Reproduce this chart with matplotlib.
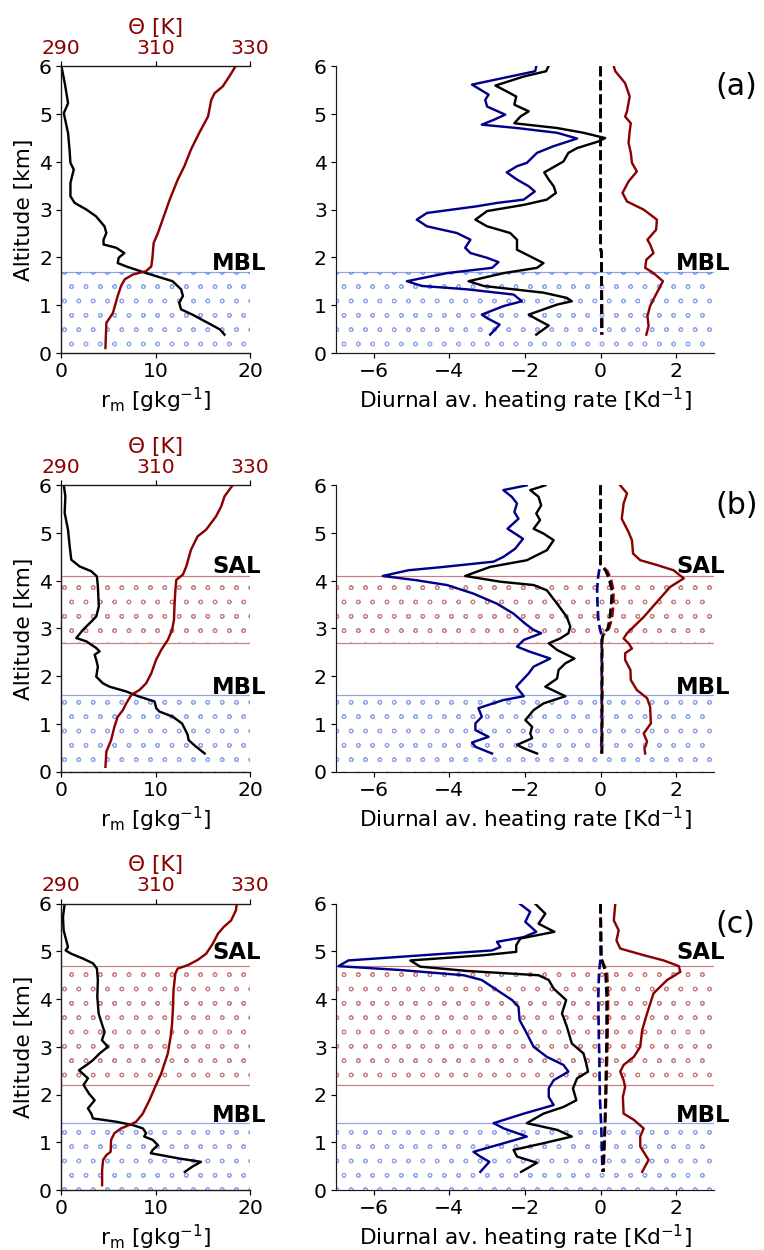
import matplotlib.pyplot as plt
import matplotlib.hatch

# ---------------- panel (a) ----------------
z_rm_a = [6.0, 5.65, 5.23, 5.02, 4.6, 4.26, 3.98, 3.84, 3.56, 3.28, 3.14, 3.0, 2.86, 2.65, 2.51, 2.37,
          2.27, 2.2, 2.09, 1.99, 1.88, 1.81, 1.67, 1.5, 1.33, 1.19, 1.05, 0.91, 0.8, 0.63, 0.49, 0.38]
rm_a = [0.05, 0.4, 0.75, 0.3, 0.75, 0.9, 1.0, 1.35, 1.0, 1.0, 1.45, 2.7, 3.7, 4.6, 4.8, 4.5,
        4.5, 5.85, 6.7, 6.1, 6.0, 6.9, 9.0, 11.8, 12.7, 12.9, 12.5, 12.7, 13.9, 15.5, 16.8, 17.3]
z_th_a = [6.0, 5.79, 5.58, 5.44, 5.3, 4.95, 4.6, 4.26, 3.91, 3.63, 3.21, 2.79, 2.51, 2.3, 1.95, 1.81,
          1.71, 1.64, 1.54, 1.4, 1.19, 0.84, 0.73, 0.63, 0.1]
th_a = [326.9, 325.6, 324.2, 322.5, 321.8, 321.1, 319.2, 317.5, 316.1, 314.7, 313.0, 311.5, 310.5, 309.6,
        309.3, 309.1, 308.0, 305.2, 303.5, 302.7, 302.0, 301.0, 300.3, 299.6, 299.4]
z_lw_a = [6.0, 5.9, 5.62, 5.41, 5.3, 5.16, 4.99, 4.88, 4.78, 4.71, 4.61, 4.49, 4.33, 4.19, 3.98, 3.91,
          3.78, 3.63, 3.49, 3.38, 3.21, 3.14, 3.07, 2.93, 2.79, 2.65, 2.51, 2.37, 2.2, 2.09, 1.99, 1.9,
          1.78, 1.67, 1.5, 1.4, 1.33, 1.22, 1.08, 0.98, 0.8, 0.73, 0.59, 0.38]
lw_a = [-1.70, -1.73, -3.40, -2.96, -3.05, -3.0, -2.52, -2.83, -3.14, -2.21, -1.15, -0.62, -1.24, -1.68,
        -1.95, -2.21, -2.48, -2.21, -1.90, -1.74, -2.03, -2.74, -3.27, -4.59, -4.86, -4.59, -3.80, -3.44,
        -3.58, -3.44, -3.0, -2.70, -2.87, -4.06, -5.12, -4.72, -3.53, -2.30, -2.08, -2.56, -3.14, -3.01,
        -2.67, -2.92]
z_net_a = [6.0, 5.9, 5.79, 5.6, 5.51, 5.37, 5.2, 5.06, 4.95, 4.81, 4.71, 4.61, 4.5, 4.43, 4.29, 4.19,
           4.01, 3.91, 3.78, 3.63, 3.49, 3.35, 3.21, 3.1, 2.97, 2.79, 2.65, 2.51, 2.37, 2.16, 2.02, 1.88,
           1.78, 1.67, 1.5, 1.4, 1.26, 1.15, 1.08, 1.01, 0.8, 0.7, 0.57, 0.38]
net_a = [-1.38, -1.44, -2.03, -2.78, -2.56, -2.23, -2.28, -1.90, -2.12, -2.28, -1.15, -0.45, 0.12, -0.05,
         -0.62, -0.85, -0.98, -1.20, -1.49, -1.37, -1.24, -1.18, -1.42, -2.03, -3.0, -3.31, -3.0, -2.39,
         -2.21, -2.21, -1.86, -1.51, -1.68, -2.56, -3.49, -3.09, -1.51, -0.89, -0.76, -1.15, -1.90, -1.68,
         -1.37, -1.70]
z_sw_a = [6.0, 5.9, 5.65, 5.37, 5.06, 4.95, 4.81, 4.64, 4.4, 4.19, 3.98, 3.8, 3.59, 3.35, 3.17, 3.0,
          2.79, 2.58, 2.37, 2.27, 2.09, 1.95, 1.78, 1.67, 1.5, 1.26, 0.98, 0.77, 0.56, 0.38]
sw_a = [0.35, 0.39, 0.65, 0.77, 0.70, 0.65, 0.80, 0.77, 0.74, 0.80, 0.83, 0.96, 0.74, 0.58, 0.70, 1.14,
        1.49, 1.47, 1.24, 1.31, 1.40, 1.21, 1.18, 1.40, 1.65, 1.49, 1.31, 1.24, 1.27, 1.21]
z_dust_a = [6.0, 2.2, 2.1, 1.5, 1.0, 0.38]
dlw_a = [0.0, 0.0, 0.02, 0.02, 0.02, 0.02]
dsw_a = [0.0, 0.0, 0.03, 0.03, 0.04, 0.04]
dnet_a = [0.0, 0.0, 0.02, 0.03, 0.03, 0.04]

# ---------------- panel (b) ----------------
z_rm_b = [6.0, 5.77, 5.42, 5.07, 4.72, 4.44, 4.3, 4.2, 4.09, 3.88, 3.46, 3.25, 3.11, 2.97, 2.8, 2.73,
          2.59, 2.52, 2.45, 2.34, 2.2, 1.99, 1.85, 1.78, 1.68, 1.57, 1.47, 1.33, 1.26, 1.15, 1.01, 0.91,
          0.77, 0.66, 0.52, 0.38]
rm_b = [0.3, 0.46, 0.39, 0.74, 0.92, 1.09, 1.97, 3.2, 3.8, 3.9, 4.0, 3.73, 3.03, 2.32, 1.62, 2.68,
        3.73, 4.08, 3.56, 3.73, 3.9, 3.73, 4.44, 5.14, 6.9, 8.3, 9.9, 10.07, 10.4, 11.83, 12.8, 13.06,
        13.4, 13.5, 14.3, 15.2]
z_th_b = [6.0, 5.77, 5.56, 5.35, 5.07, 4.93, 4.65, 4.3, 4.13, 4.02, 3.81, 3.46, 3.18, 2.97, 2.76, 2.55,
          2.34, 2.06, 1.85, 1.71, 1.61, 1.43, 1.29, 1.15, 0.94, 0.66, 0.42, 0.1]
th_b = [326.3, 324.6, 323.9, 322.8, 320.7, 318.9, 317.5, 316.5, 315.8, 314.4, 314.2, 314.0, 313.9, 313.5,
        312.6, 311.2, 310.1, 309.1, 308.0, 306.6, 304.9, 303.8, 303.1, 302.0, 301.3, 300.6, 299.6, 299.4]
z_lw_b = [6.0, 5.9, 5.76, 5.62, 5.44, 5.3, 5.09, 4.88, 4.67, 4.5, 4.4, 4.29, 4.22, 4.1, 4.01, 3.91,
          3.73, 3.52, 3.31, 3.1, 2.97, 2.9, 2.76, 2.62, 2.51, 2.37, 2.2, 2.06, 1.78, 1.58, 1.5, 1.33,
          1.15, 1.01, 0.87, 0.73, 0.61, 0.52, 0.38]
lw_b = [-1.95, -2.57, -2.35, -2.21, -2.28, -2.17, -2.46, -2.05, -2.26, -2.57, -2.83, -4.15, -5.08, -5.76,
        -4.86, -4.06, -3.36, -2.74, -2.30, -1.99, -1.77, -1.57, -2.03, -2.21, -1.86, -1.33, -1.77, -1.90,
        -2.23, -2.03, -2.57, -3.23, -3.14, -3.31, -3.31, -2.96, -3.40, -3.31, -2.87]
z_net_b = [6.0, 5.9, 5.76, 5.58, 5.41, 5.27, 5.09, 4.99, 4.85, 4.64, 4.43, 4.29, 4.19, 4.1, 3.98, 3.91,
           3.8, 3.52, 3.24, 3.04, 2.9, 2.79, 2.69, 2.55, 2.37, 2.27, 2.13, 1.95, 1.78, 1.58, 1.43, 1.29,
           1.08, 0.94, 0.8, 0.7, 0.56, 0.49, 0.38]
net_b = [-1.46, -1.86, -1.64, -1.57, -1.70, -1.60, -1.77, -1.51, -1.24, -1.42, -1.95, -2.92, -3.27, -3.58,
         -2.65, -1.77, -1.42, -1.15, -0.89, -0.80, -0.85, -1.07, -1.37, -1.15, -0.69, -0.93, -1.11, -1.15,
         -1.46, -0.93, -1.51, -1.77, -1.99, -1.81, -1.86, -1.81, -2.21, -2.03, -1.68]
z_sw_b = [6.0, 5.83, 5.62, 5.3, 5.02, 4.85, 4.57, 4.43, 4.33, 4.22, 4.05, 3.87, 3.52, 3.24, 3.04, 2.9,
          2.79, 2.69, 2.58, 2.48, 2.34, 2.13, 1.92, 1.71, 1.54, 1.36, 1.01, 0.8, 0.63, 0.49, 0.38]
sw_b = [0.52, 0.70, 0.61, 0.56, 0.74, 0.83, 0.86, 1.05, 1.49, 1.93, 2.20, 1.84, 1.45, 1.14, 0.88, 0.70,
        0.61, 0.74, 0.83, 0.65, 0.65, 0.79, 0.80, 0.96, 1.23, 1.31, 1.33, 1.14, 1.23, 1.16, 1.18]
z_dust_b = [6.0, 4.35, 4.2, 4.05, 3.8, 3.5, 3.2, 3.0, 2.85, 2.75, 2.0, 1.0, 0.38]
dlw_b = [0.0, 0.0, -0.04, -0.07, -0.09, -0.08, -0.06, -0.02, 0.03, 0.03, 0.03, 0.03, 0.02]
dsw_b = [0.0, 0.0, 0.18, 0.27, 0.34, 0.34, 0.30, 0.22, 0.06, 0.04, 0.04, 0.04, 0.03]
dnet_b = [0.0, 0.0, 0.14, 0.22, 0.30, 0.28, 0.24, 0.19, 0.06, 0.04, 0.04, 0.04, 0.04]

# ---------------- panel (c) ----------------
z_rm_c = [6.0, 5.72, 5.44, 5.23, 5.09, 5.02, 4.95, 4.85, 4.75, 4.64, 4.4, 4.05, 3.7, 3.52, 3.31, 3.14,
          3.0, 2.86, 2.72, 2.64, 2.51, 2.34, 2.2, 2.02, 1.88, 1.71, 1.6, 1.5, 1.43, 1.36, 1.29, 1.19,
          1.12, 1.05, 0.94, 0.84, 0.77, 0.66, 0.59, 0.49, 0.38]
rm_c = [0.39, 0.21, 0.28, 0.56, 0.74, 0.49, 1.09, 2.32, 3.38, 3.80, 3.9, 3.84, 3.98, 4.26, 4.61, 4.33,
        4.96, 4.08, 3.38, 2.85, 1.90, 2.85, 2.39, 2.96, 3.56, 2.85, 3.2, 3.38, 5.85, 7.6, 8.66, 9.0,
        8.8, 9.7, 10.25, 9.7, 9.5, 12.5, 14.8, 13.9, 13.1]
z_th_c = [6.0, 5.86, 5.65, 5.51, 5.37, 5.16, 4.95, 4.82, 4.71, 4.64, 4.54, 4.19, 3.84, 3.49, 3.28, 2.86,
          2.44, 2.2, 1.88, 1.6, 1.43, 1.38, 1.29, 1.19, 1.05, 0.8, 0.73, 0.63, 0.42, 0.1]
th_c = [327.2, 327.0, 326.0, 324.4, 323.2, 322.1, 320.7, 318.9, 316.8, 314.7, 314.2, 313.8, 313.7, 313.5,
        313.3, 312.6, 311.2, 310.1, 308.7, 307.3, 305.9, 304.9, 302.7, 301.3, 300.6, 300.5, 299.6, 298.9,
        298.7, 298.7]
z_lw_c = [6.0, 5.83, 5.62, 5.41, 5.3, 5.2, 5.09, 5.02, 4.95, 4.81, 4.69, 4.61, 4.5, 4.4, 4.19, 3.98,
          3.84, 3.56, 3.28, 3.0, 2.79, 2.62, 2.48, 2.3, 2.13, 1.95, 1.78, 1.6, 1.4, 1.29, 1.12, 0.98,
          0.8, 0.7, 0.59, 0.38]
lw_c = [-2.14, -1.86, -1.99, -1.70, -2.03, -2.74, -2.65, -2.87, -4.15, -6.67, -6.93, -5.30, -3.62, -3.14,
        -2.74, -2.34, -2.17, -2.14, -1.95, -1.77, -1.42, -0.98, -0.85, -1.24, -1.37, -1.37, -1.24, -2.03,
        -2.83, -2.56, -1.95, -2.56, -3.36, -3.18, -2.94, -3.18]
z_net_c = [6.0, 5.79, 5.58, 5.41, 5.27, 5.13, 4.99, 4.92, 4.81, 4.68, 4.59, 4.5, 4.4, 4.22, 3.98, 3.7,
           3.42, 3.07, 2.86, 2.65, 2.48, 2.34, 2.13, 1.88, 1.74, 1.6, 1.4, 1.26, 1.12, 0.98, 0.84, 0.7,
           0.57, 0.38]
net_c = [-1.73, -1.46, -1.64, -1.22, -2.12, -2.23, -2.23, -3.09, -5.03, -4.77, -3.53, -1.64, -1.37, -1.24,
         -0.91, -1.02, -0.89, -0.76, -0.45, -0.38, -0.33, -0.62, -0.73, -0.64, -0.98, -1.51, -1.95, -1.15,
         -0.76, -1.51, -2.30, -2.21, -1.68, -2.10]
z_sw_c = [6.0, 5.65, 5.44, 5.23, 5.06, 4.92, 4.81, 4.69, 4.57, 4.4, 4.12, 3.7, 3.35, 3.0, 2.79, 2.62,
          2.48, 2.3, 2.16, 1.95, 1.6, 1.47, 1.29, 1.12, 0.91, 0.63, 0.38]
sw_c = [0.39, 0.35, 0.48, 0.42, 0.52, 1.14, 1.67, 2.07, 2.11, 1.76, 1.40, 1.23, 1.10, 1.05, 0.88, 0.61,
        0.52, 0.61, 0.65, 0.59, 0.61, 0.88, 1.14, 1.05, 1.05, 1.27, 1.10]
z_dust_c = [6.0, 4.85, 4.57, 4.08, 3.38, 2.68, 1.99, 1.29, 0.38]
dlw_c = [0.0, 0.0, -0.04, -0.06, -0.05, -0.03, -0.02, 0.02, 0.05]
dsw_c = [0.0, 0.02, 0.17, 0.20, 0.19, 0.17, 0.15, 0.12, 0.08]
dnet_c = [0.0, 0.02, 0.13, 0.16, 0.16, 0.15, 0.13, 0.11, 0.07]

# layers (km)
mbl_top = [1.7, 1.6, 1.4]
sal_layer = [None, (2.7, 4.1), (2.2, 4.7)]
sal_text_y = [None, 4.16, 4.85]
panel_tags = ['(a)', '(b)', '(c)']

plt.rcParams['font.family'] = 'DejaVu Sans'
plt.rcParams['hatch.linewidth'] = 0.9
matplotlib.hatch.SmallCircles.size = 0.13  # smaller rings than the default 'o'

DPI = 86.4
fig = plt.figure(figsize=(764.3 / DPI, 1250.3 / DPI), dpi=DPI)

row_bottom = [0.7176, 0.3826, 0.048]
row_h = 0.229
red = '#8b0000'
blue = '#00008b'
mbl_col = 'royalblue'
sal_col = '#a52a2a'
TS = 17
LW = 2.0


def layers(ax, i, xtxt):
    ax.axhspan(0, mbl_top[i], fill=False, hatch='o', color=mbl_col, alpha=0.55, lw=0, zorder=0)
    ax.axhline(mbl_top[i], color=mbl_col, alpha=0.6, lw=1.0, zorder=0.5)
    ax.text(xtxt, mbl_top[i] + 0.04, 'MBL', fontsize=19, fontweight='bold', va='baseline', ha='left')
    if sal_layer[i] is not None:
        lo, hi = sal_layer[i]
        ax.axhspan(lo, hi, fill=False, hatch='o', color=sal_col, alpha=0.55, lw=0, zorder=0)
        ax.axhline(lo, color=sal_col, alpha=0.6, lw=1.0, zorder=0.5)
        ax.axhline(hi, color=sal_col, alpha=0.6, lw=1.0, zorder=0.5)
        ax.text(xtxt, sal_text_y[i], 'SAL', fontsize=19, fontweight='bold', va='baseline', ha='left')


def style(ax):
    for s in ax.spines.values():
        s.set_linewidth(1.0)
        s.set_color('0.1')
    ax.tick_params(labelsize=TS, width=1.0, length=4)


data = [
    (z_rm_a, rm_a, z_th_a, th_a, z_lw_a, lw_a, z_net_a, net_a, z_sw_a, sw_a, z_dust_a, dlw_a, dsw_a, dnet_a),
    (z_rm_b, rm_b, z_th_b, th_b, z_lw_b, lw_b, z_net_b, net_b, z_sw_b, sw_b, z_dust_b, dlw_b, dsw_b, dnet_b),
    (z_rm_c, rm_c, z_th_c, th_c, z_lw_c, lw_c, z_net_c, net_c, z_sw_c, sw_c, z_dust_c, dlw_c, dsw_c, dnet_c),
]

for i, d in enumerate(data):
    z_rm, rm, z_th, th, z_lw, lw, z_net, net, z_sw, sw, z_d, dlw, dsw, dnet = d
    b = row_bottom[i]

    # left: moisture + potential temperature
    ax = fig.add_axes([0.0798, b, 0.2474, row_h])
    layers(ax, i, 16)
    ax.plot(rm, z_rm, color='black', lw=LW)
    ax.set_xlim(0, 20)
    ax.set_ylim(0, 6)
    ax.set_xticks([0, 10, 20])
    ax.set_yticks(range(7))
    ax.set_xlabel('r$_\\mathrm{m}$ [gkg$^{-1}$]', fontsize=18)
    ax.set_ylabel('Altitude [km]', fontsize=18)
    ax.spines['right'].set_visible(False)
    style(ax)

    ax2 = ax.twiny()
    ax2.plot(th, z_th, color=red, lw=LW)
    ax2.set_xlim(290, 330)
    ax2.set_xticks([290, 310, 330])
    ax2.set_xlabel('Θ [K]', color=red, fontsize=18)
    ax2.spines['right'].set_visible(False)
    style(ax2)
    ax2.tick_params(axis='x', labelcolor=red)

    # right: heating rates
    ax3 = fig.add_axes([0.4394, b, 0.4948, row_h])
    layers(ax3, i, 2.0)
    ax3.plot(lw, z_lw, color=blue, lw=LW)
    ax3.plot(sw, z_sw, color=red, lw=LW)
    ax3.plot(net, z_net, color='black', lw=LW)
    ax3.plot(dlw, z_d, color=blue, lw=2.2, ls='--')
    ax3.plot(dsw, z_d, color=red, lw=2.2, ls='--')
    ax3.plot(dnet, z_d, color='black', lw=2.2, ls='--')
    ax3.set_xlim(-7, 3)
    ax3.set_ylim(0, 6)
    ax3.set_xticks([-6, -4, -2, 0, 2])
    ax3.set_yticks(range(7))
    ax3.set_xlabel('Diurnal av. heating rate [Kd$^{-1}$]', fontsize=18)
    ax3.spines['right'].set_visible(False)
    ax3.spines['top'].set_visible(False)
    style(ax3)
    ax3.text(1.003, 0.93, panel_tags[i], transform=ax3.transAxes, fontsize=25,
             ha='left', va='center')

fig.savefig('out.png', dpi=DPI)
